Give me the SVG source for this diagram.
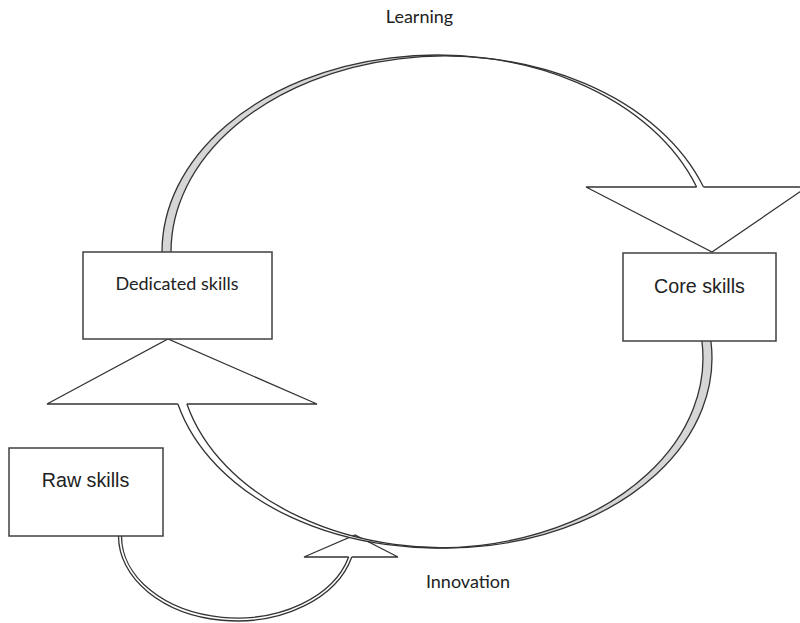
<svg xmlns="http://www.w3.org/2000/svg" width="800" height="623" viewBox="0 0 800 623">
<style>
.edge{fill:none;stroke:#333;stroke-width:1.3}
.gray{fill:#d6d6d6;stroke:none}
.white{fill:#fff;stroke:none}
.box{fill:#fff;stroke:#404040;stroke-width:1.5}
.cal{font-family:Lato,"Open Sans",sans-serif;font-size:18px;fill:#222;text-anchor:middle}
.ari{font-family:"Liberation Sans",Arial,sans-serif;font-size:19.7px;fill:#222;text-anchor:middle}
</style>
<rect width="800" height="623" fill="#fff"/>
<g id="connectors">
  <!-- Raw skills -> Innovation arrow -->
  <g id="arrow-innovation">
    <polygon class="white" points="304,557 398,557 355,535"/>
    <path class="white" d="M118.5,536 A118.5,85 0 0 0 351.8,557 L348.65,557 A115.5,82 0 0 1 121.5,536 Z"/>
    <path class="edge" d="M118.5,536 A118.5,85 0 0 0 351.8,557"/>
    <path class="edge" d="M121.5,536 A115.5,82 0 0 0 348.65,557"/>
    <path class="edge" d="M348.65,557 H304 L355,535 L398,557 H351.8"/>
  </g>
  <!-- Learning arrow: Dedicated -> Core -->
  <g id="arrow-learning">
    <polygon class="white" points="586,187 807,187 712,252"/>
    <path class="gray" d="M162,252 A275,197 0 0 1 490,58.7 A274,196 0 0 0 171,252 Z"/>
    <path class="white" d="M490,58.7 A275,197 0 0 1 696.6,187 L703.5,187 A274,196 0 0 0 490,58.7 Z"/>
    <path class="edge" d="M162,252 A275,197 0 0 1 696.6,187"/>
    <path class="edge" d="M171,252 A274,196 0 0 1 703.5,187"/>
    <path class="edge" d="M696.6,187 H586 L712,252 L807,187 H703.5"/>
  </g>
  <!-- Core -> Dedicated arrow -->
  <g id="arrow-return">
    <polygon class="white" points="47,404 317,404 168,339"/>
    <path class="gray" d="M710.9,341 A266.5,190 0 0 1 441,548 A266.5,190 0 0 0 701.9,341 Z"/>
    <path class="white" d="M441,548 A266.5,190 0 0 1 186.9,404 L177.9,404 A266.5,190 0 0 0 441,548 Z"/>
    <path class="edge" d="M710.9,341 A266.5,190 0 0 1 186.9,404"/>
    <path class="edge" d="M701.9,341 A266.5,190 0 0 1 177.9,404"/>
    <path class="edge" d="M177.9,404 H47 L168,339 L317,404 H186.9"/>
  </g>
</g>
<g id="dedicated">
  <rect class="box" x="83" y="252" width="189" height="87"/>
  <text class="cal" x="177" y="290">Dedicated skills</text>
</g>
<g id="core">
  <rect class="box" x="623" y="253" width="153" height="88"/>
  <text class="ari" x="699.5" y="293">Core skills</text>
</g>
<g id="raw">
  <rect class="box" x="9" y="448" width="154" height="88"/>
  <text class="ari" x="85.5" y="487">Raw skills</text>
</g>
<g id="labels">
  <text class="cal" x="419.5" y="23">Learning</text>
  <text class="cal" x="468" y="588">Innovation</text>
</g>
</svg>
